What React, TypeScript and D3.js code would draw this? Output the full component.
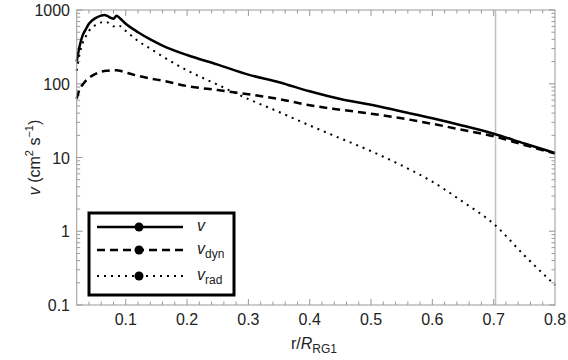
import React, { useRef, useEffect } from 'react';
import * as d3 from 'd3';

// radius in units of R_RG1
const rValues = [
  0.02, 0.025, 0.03, 0.035, 0.04, 0.05, 0.06, 0.065, 0.07, 0.075, 0.08, 0.085,
  0.09, 0.1, 0.12, 0.14, 0.16, 0.2, 0.25, 0.3, 0.35, 0.4, 0.45, 0.5, 0.55, 0.6,
  0.65, 0.7, 0.75, 0.8,
];
const vTotal = [
  200, 330, 460, 550, 650, 770, 840, 855, 830, 785, 760, 835, 780, 650, 500,
  400, 330, 245, 182, 133, 105, 79, 62, 52, 42, 34, 27, 21, 15.5, 11.5,
];
const vDyn = [
  63, 85, 98, 110, 120, 135, 146, 149, 150, 152, 153, 152, 150, 142, 128, 118,
  110, 93, 82, 72, 62, 51, 44.5, 39.3, 34, 28.6, 23.6, 19.4, 14.8, 11.3,
];
const vRad = [
  150, 260, 360, 440, 520, 620, 680, 690, 680, 640, 600, 620, 610, 520, 380,
  300, 235, 152, 97, 62, 41.4, 27.2, 18.2, 12.2, 7.8, 4.7, 2.5, 1.26, 0.47,
  0.186,
];
const xTickValues = [0.1, 0.2, 0.3, 0.4, 0.5, 0.6, 0.7, 0.8];
const yTickValues = [0.1, 1, 10, 100, 1000];
const yTickLabels = ['0.1', '1', '10', '100', '1000'];
const markerR = 0.703;

const W = 568;
const H = 360;
const m = { left: 76.7, right: 555, top: 10, bottom: 305 };

export default function App() {
  const svgRef = useRef<SVGSVGElement>(null);

  useEffect(() => {
    const svg = d3.select(svgRef.current);
    svg.selectAll('*').remove();

    const x = d3.scaleLinear().domain([0.02, 0.8]).range([m.left, m.right]);
    const y = d3.scaleLog().domain([0.1, 1000]).range([m.bottom, m.top]);
    const font = '"Liberation Sans", Arial, sans-serif';
    const frameColor = '#999';

    // minor ticks
    const xMinor = d3.range(1, 40).map((i) => i * 0.02).filter((v) => v > 0.021);
    const yMinor: number[] = [];
    [0.1, 1, 10, 100].forEach((d) => {
      for (let k = 2; k <= 9; k++) yMinor.push(d * k);
    });

    const ticks = svg.append('g').attr('stroke', frameColor).attr('stroke-width', 1);
    xMinor.forEach((v) => {
      const isMajor = xTickValues.some((t) => Math.abs(t - v) < 1e-6);
      const len = isMajor ? 6 : 3.5;
      ticks.append('line').attr('x1', x(v)).attr('x2', x(v)).attr('y1', m.bottom).attr('y2', m.bottom - len);
      ticks.append('line').attr('x1', x(v)).attr('x2', x(v)).attr('y1', m.top).attr('y2', m.top + len);
    });
    yMinor.forEach((v) => {
      ticks.append('line').attr('x1', m.left).attr('x2', m.left + 3.5).attr('y1', y(v)).attr('y2', y(v));
      ticks.append('line').attr('x1', m.right).attr('x2', m.right - 3.5).attr('y1', y(v)).attr('y2', y(v));
    });
    yTickValues.forEach((v) => {
      ticks.append('line').attr('x1', m.left).attr('x2', m.left + 6).attr('y1', y(v)).attr('y2', y(v));
      ticks.append('line').attr('x1', m.right).attr('x2', m.right - 6).attr('y1', y(v)).attr('y2', y(v));
    });

    // reference line
    svg.append('line')
      .attr('x1', x(markerR)).attr('x2', x(markerR))
      .attr('y1', m.top).attr('y2', m.bottom)
      .attr('stroke', '#c0c0c0').attr('stroke-width', 1.5);

    // curves
    const series = [
      { vals: vTotal, dash: null, width: 2.5 },
      { vals: vDyn, dash: '8,5', width: 2.5 },
      { vals: vRad, dash: '2,5', width: 2 },
    ];
    const g = svg.append('g');
    series.forEach((s) => {
      const pts = rValues.map((r, i) => [r, s.vals[i]] as [number, number]);
      const ln = d3.line<[number, number]>()
        .x((d) => x(d[0]))
        .y((d) => y(d[1]))
        .curve(d3.curveMonotoneX);
      g.append('path')
        .attr('d', ln(pts))
        .attr('fill', 'none')
        .attr('stroke', '#000')
        .attr('stroke-width', s.width)
        .attr('stroke-dasharray', s.dash);
    });

    // frame
    svg.append('rect')
      .attr('x', m.left).attr('y', m.top)
      .attr('width', m.right - m.left).attr('height', m.bottom - m.top)
      .attr('fill', 'none').attr('stroke', frameColor).attr('stroke-width', 1);

    // tick labels
    xTickValues.forEach((v) => {
      svg.append('text')
        .attr('x', x(v)).attr('y', 325)
        .attr('text-anchor', 'middle')
        .attr('font-family', font).attr('font-size', 16).attr('fill', '#222')
        .text(String(v));
    });
    yTickValues.forEach((v, i) => {
      svg.append('text')
        .attr('x', 70).attr('y', y(v) + 6)
        .attr('text-anchor', 'end')
        .attr('font-family', font).attr('font-size', 16).attr('fill', '#222')
        .text(yTickLabels[i]);
    });

    // axis titles
    const xt = svg.append('text')
      .attr('x', 314).attr('y', 349)
      .attr('text-anchor', 'middle')
      .attr('font-family', font).attr('font-size', 16).attr('fill', '#222');
    xt.append('tspan').text('r/');
    xt.append('tspan').attr('font-style', 'italic').text('R');
    xt.append('tspan').attr('font-size', 12).attr('dy', 4).text('RG1');

    const yt = svg.append('text')
      .attr('transform', `translate(40,${(m.top + m.bottom) / 2}) rotate(-90)`)
      .attr('text-anchor', 'middle')
      .attr('font-family', font).attr('font-size', 16).attr('fill', '#222');
    yt.append('tspan').attr('font-style', 'italic').text('v');
    yt.append('tspan').text(' (cm');
    yt.append('tspan').attr('font-size', 11).attr('dy', -7).text('2');
    yt.append('tspan').attr('dy', 7).text(' s');
    yt.append('tspan').attr('font-size', 11).attr('dy', -7).text('\u22121');
    yt.append('tspan').attr('dy', 7).text(')');

    // legend
    const leg = svg.append('g');
    leg.append('rect')
      .attr('x', 89).attr('y', 213).attr('width', 145).attr('height', 82)
      .attr('fill', '#fff').attr('stroke', '#000').attr('stroke-width', 3);
    const entries = [
      { dash: null, width: 2.5, sub: '', yy: 227 },
      { dash: '8,5', width: 2.5, sub: 'dyn', yy: 250 },
      { dash: '2,5', width: 2, sub: 'rad', yy: 276 },
    ];
    entries.forEach((e) => {
      leg.append('line')
        .attr('x1', 97).attr('x2', 183).attr('y1', e.yy).attr('y2', e.yy)
        .attr('stroke', '#000').attr('stroke-width', e.width)
        .attr('stroke-dasharray', e.dash);
      leg.append('circle').attr('cx', 139).attr('cy', e.yy).attr('r', 4.5).attr('fill', '#000');
      const t = leg.append('text')
        .attr('x', 197).attr('y', e.yy + 4)
        .attr('font-family', font).attr('font-size', 16).attr('fill', '#222');
      t.append('tspan').attr('font-style', 'italic').text('v');
      if (e.sub) t.append('tspan').attr('font-size', 12).attr('dy', 4).text(e.sub);
    });
  }, []);

  return (
    <svg
      ref={svgRef}
      width={W}
      height={H}
      style={{ position: 'absolute', left: 0, top: 0, background: '#fff' }}
    />
  );
}
